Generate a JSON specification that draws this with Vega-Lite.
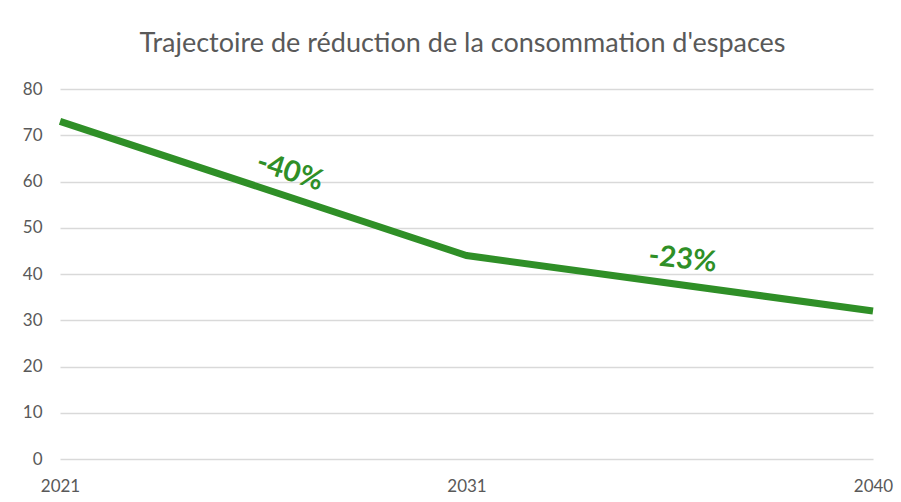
{
  "$schema": "https://vega.github.io/schema/vega-lite/v6.json",
  "width": 813,
  "height": 370,
  "autosize": "none",
  "padding": {"left": 60, "top": 89, "right": 28, "bottom": 43},
  "background": "white",
  "config": {
    "view": {"stroke": null},
    "font": "Lato"
  },
  "title": {
    "text": "Trajectoire de réduction de la consommation d'espaces",
    "anchor": "middle",
    "font": "Lato",
    "fontSize": 27,
    "fontWeight": 400,
    "color": "#595959",
    "offset": 22,
    "dx": -4
  },
  "datasets": {
    "line": [
      {"year": "2021", "value": 73},
      {"year": "2031", "value": 44},
      {"year": "2040", "value": 32}
    ],
    "labels": [
      {"year": "2021-2031", "value": 64, "label": "-40%"},
      {"year": "2031-2040", "value": 43.5, "label": "-23%"}
    ]
  },
  "layer": [
    {
      "data": {"name": "line"},
      "mark": {"type": "line", "color": "#2f8f27", "strokeWidth": 7, "strokeCap": "butt"},
      "encoding": {
        "x": {
          "field": "year",
          "type": "ordinal",
          "scale": {"type": "point", "padding": 0, "domain": ["2021", "2021-2031", "2031", "2031-2040", "2040"]},
          "axis": {
            "title": null,
            "values": ["2021", "2031", "2040"],
            "labelAngle": 0,
            "domain": false,
            "ticks": false,
            "labelPadding": 19,
            "labelFontSize": 17,
            "labelColor": "#595959",
            "labelFont": "Lato",
            "grid": false
          }
        },
        "y": {
          "field": "value",
          "type": "quantitative",
          "scale": {"domain": [0, 80]},
          "axis": {
            "title": null,
            "values": [0, 10, 20, 30, 40, 50, 60, 70, 80],
            "domain": false,
            "ticks": false,
            "labelPadding": 18,
            "labelFontSize": 17,
            "labelColor": "#595959",
            "labelFont": "Lato",
            "gridColor": "#d9d9d9",
            "gridWidth": 1.5
          }
        }
      }
    },
    {
      "data": {"name": "labels"},
      "transform": [{"filter": "datum.label === '-40%'"}],
      "mark": {"type": "text", "color": "#2f8f27", "fontWeight": "bold", "fontSize": 29, "font": "Lato", "angle": 18, "dx": 28},
      "encoding": {
        "x": {"field": "year", "type": "ordinal"},
        "y": {"field": "value", "type": "quantitative"},
        "text": {"field": "label"}
      }
    },
    {
      "data": {"name": "labels"},
      "transform": [{"filter": "datum.label === '-23%'"}],
      "mark": {"type": "text", "color": "#2f8f27", "fontWeight": "bold", "fontSize": 29, "font": "Lato", "angle": 6, "dx": 13},
      "encoding": {
        "x": {"field": "year", "type": "ordinal"},
        "y": {"field": "value", "type": "quantitative"},
        "text": {"field": "label"}
      }
    }
  ]
}
